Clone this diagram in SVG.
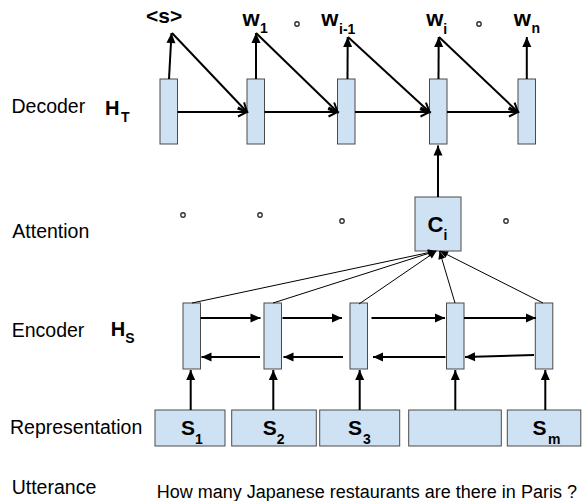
<svg xmlns="http://www.w3.org/2000/svg" width="583" height="501" viewBox="0 0 583 501">
<style>
.box{fill:#cfe2f3;stroke:#4a4a4a;stroke-width:1}
.lab{font-family:"Liberation Sans",Arial,sans-serif;font-size:19.5px;fill:#000}
.b{font-family:"Liberation Sans",Arial,sans-serif;font-weight:bold;fill:#000;font-size:21px}
.sub{font-size:14px}
.a2{stroke:#000;stroke-width:2;fill:none}
.a1{stroke:#000;stroke-width:1;fill:none}
.dot{fill:#fff;stroke:#333;stroke-width:1.4}
</style>
<defs>
<marker id="open" markerUnits="userSpaceOnUse" markerWidth="14" markerHeight="14" viewBox="-12 -7 14 14" refX="0" refY="0" orient="auto">
<path d="M-9,-4.5 L0,0 L-9,4.5" fill="none" stroke="#000" stroke-width="2"/>
</marker>
<marker id="fill" markerUnits="userSpaceOnUse" markerWidth="14" markerHeight="14" viewBox="-12 -7 14 14" refX="0" refY="0" orient="auto">
<path d="M0,0 L-10,-4.5 L-10,4.5 Z" fill="#000"/>
</marker>
<marker id="small" markerUnits="userSpaceOnUse" markerWidth="12" markerHeight="12" viewBox="-10 -6 12 12" refX="0" refY="0" orient="auto">
<path d="M0,0 L-8,-3.5 L-8,3.5 Z" fill="#000"/>
</marker>
</defs>

<g id="labels">
<text class="lab" x="11.5" y="112.5">Decoder</text>
<text class="b" x="105" y="114.5" style="font-size:20px">H<tspan class="sub" x="121" y="122">T</tspan></text>
<text class="lab" x="12.3" y="238">Attention</text>
<text class="lab" x="11.7" y="336.5">Encoder</text>
<text class="b" x="110.7" y="335.7" style="font-size:20px">H<tspan class="sub" x="125.3" y="343.3">S</tspan></text>
<text class="lab" x="10" y="434">Representation</text>
<text class="lab" x="11.7" y="494">Utterance</text>
<text id="utterance" class="lab" x="156.7" y="498" style="font-size:18px">How many Japanese restaurants are there in Paris ?</text>
</g>

<g id="outputs">
<text class="b" x="146" y="23">&lt;s&gt;</text>
<text class="b" x="242.5" y="25.5" style="font-size:22px">w<tspan class="sub" x="260" y="32.5">1</tspan></text>
<text class="b" x="321.2" y="25.5" style="font-size:22px">w<tspan class="sub" x="339" y="33.5">i-1</tspan></text>
<text class="b" x="426.2" y="25.5" style="font-size:22px">w<tspan class="sub" x="443.3" y="33.5">i</tspan></text>
<text class="b" x="513.8" y="25.5" style="font-size:22px">w<tspan class="sub" x="531.5" y="32.5">n</tspan></text>
<circle class="dot" cx="297" cy="24" r="2.2"/>
<circle class="dot" cx="479" cy="24" r="2.2"/>
</g>

<g id="decoder">
<rect id="dec1" class="box" x="160" y="79" width="17.5" height="65"/>
<rect id="dec2" class="box" x="247" y="79" width="17.5" height="65"/>
<rect id="dec3" class="box" x="337.5" y="79" width="17.5" height="65"/>
<rect id="dec4" class="box" x="429.5" y="79" width="17.5" height="65"/>
<rect id="dec5" class="box" x="518" y="79" width="17.5" height="65"/>
</g>

<g id="attention">
<circle class="dot" cx="183" cy="215" r="2.2"/>
<circle class="dot" cx="260" cy="215" r="2.2"/>
<circle class="dot" cx="342" cy="221" r="2.2"/>
<circle class="dot" cx="506" cy="221" r="2.2"/>
<g id="ci">
<rect class="box" x="415" y="197" width="46" height="54"/>
<text class="b" x="427.5" y="232" style="font-size:22px">C<tspan class="sub" x="443.5" y="240">i</tspan></text>
</g>
</g>

<g id="encoder">
<rect id="enc1" class="box" x="183" y="303" width="17.5" height="66"/>
<rect id="enc2" class="box" x="264" y="303" width="17.5" height="66"/>
<rect id="enc3" class="box" x="350" y="303" width="17.5" height="66"/>
<rect id="enc4" class="box" x="446.5" y="303" width="17.5" height="66"/>
<rect id="enc5" class="box" x="535.3" y="303" width="17.5" height="66"/>
</g>

<g id="representation">
<g id="s1"><rect class="box" x="155" y="410" width="70" height="36"/><text class="b" x="181" y="434.5">S<tspan class="sub" x="195" y="443.5">1</tspan></text></g>
<g id="s2"><rect class="box" x="231.7" y="410" width="84.6" height="36"/><text class="b" x="262.7" y="434.5">S<tspan class="sub" x="276.7" y="443.5">2</tspan></text></g>
<g id="s3"><rect class="box" x="319.7" y="410" width="80" height="36"/><text class="b" x="348" y="434.5">S<tspan class="sub" x="363" y="443.5">3</tspan></text></g>
<g id="s4"><rect class="box" x="408.7" y="410" width="92.6" height="36"/></g>
<g id="sm"><rect class="box" x="507.3" y="410" width="73.5" height="36"/><text class="b" x="532.5" y="434.5">S<tspan class="sub" x="548" y="443.5">m</tspan></text></g>
</g>

<g id="connectors">
<line class="a2" x1="169" y1="79" x2="171.5" y2="33" marker-end="url(#fill)"/>
<line class="a2" x1="256" y1="79" x2="256" y2="33" marker-end="url(#fill)"/>
<line class="a2" x1="347.5" y1="79" x2="347.7" y2="37" marker-end="url(#fill)"/>
<line class="a2" x1="438.5" y1="79" x2="438.7" y2="37" marker-end="url(#fill)"/>
<line class="a2" x1="526.8" y1="79" x2="526.8" y2="37" marker-end="url(#fill)"/>
<line class="a2" x1="172" y1="33" x2="247" y2="112" marker-end="url(#open)"/>
<line class="a2" x1="256" y1="33" x2="337.5" y2="112" marker-end="url(#open)"/>
<line class="a2" x1="348" y1="37" x2="429.5" y2="112" marker-end="url(#open)"/>
<line class="a2" x1="439" y1="37" x2="518" y2="112" marker-end="url(#open)"/>
<line class="a2" x1="177.5" y1="112" x2="247" y2="112" marker-end="url(#open)"/>
<line class="a2" x1="264.5" y1="112" x2="337.5" y2="112" marker-end="url(#open)"/>
<line class="a2" x1="355" y1="112" x2="429.5" y2="112" marker-end="url(#open)"/>
<line class="a2" x1="447" y1="112" x2="518" y2="112" marker-end="url(#open)"/>
<line class="a2" x1="438" y1="197" x2="438" y2="145.5" marker-end="url(#fill)"/>
<line class="a1" x1="192" y1="303" x2="436" y2="251" marker-end="url(#small)"/>
<line class="a1" x1="273" y1="303" x2="436" y2="251" marker-end="url(#small)"/>
<line class="a1" x1="359" y1="304" x2="436.5" y2="251" marker-end="url(#small)"/>
<line class="a1" x1="455" y1="303" x2="439.5" y2="251" marker-end="url(#small)"/>
<line class="a1" x1="543" y1="303" x2="440" y2="251" marker-end="url(#small)"/>
<line class="a2" x1="200.5" y1="318" x2="260.5" y2="318" marker-end="url(#fill)"/>
<line class="a2" x1="282.5" y1="318" x2="342" y2="318" marker-end="url(#fill)"/>
<line class="a2" x1="371.5" y1="318" x2="445" y2="318" marker-end="url(#fill)"/>
<line class="a2" x1="464" y1="318" x2="536" y2="318" marker-end="url(#fill)"/>
<line class="a2" x1="260" y1="357" x2="201.5" y2="357" marker-end="url(#fill)"/>
<line class="a2" x1="343" y1="357" x2="283.5" y2="357" marker-end="url(#fill)"/>
<line class="a2" x1="445.5" y1="357" x2="373" y2="357" marker-end="url(#fill)"/>
<line class="a2" x1="534" y1="355" x2="465" y2="357" marker-end="url(#fill)"/>
<line class="a2" x1="190.7" y1="410" x2="190.7" y2="370" marker-end="url(#fill)"/>
<line class="a2" x1="273.3" y1="410" x2="273.3" y2="370" marker-end="url(#fill)"/>
<line class="a2" x1="359.7" y1="410" x2="359.7" y2="370" marker-end="url(#fill)"/>
<line class="a2" x1="455.3" y1="410" x2="455.3" y2="370" marker-end="url(#fill)"/>
<line class="a2" x1="545.3" y1="410" x2="545.3" y2="370" marker-end="url(#fill)"/>
</g>
</svg>
